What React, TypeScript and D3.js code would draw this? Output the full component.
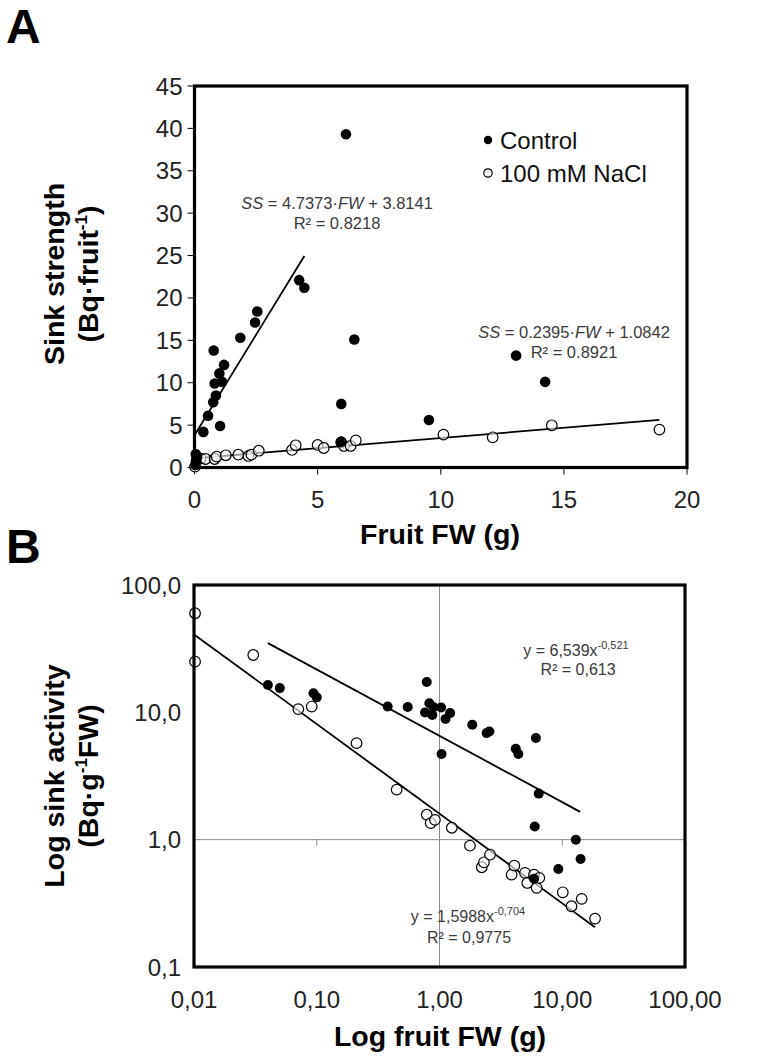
import React from "react";
import * as d3 from "d3";

// Panel A: sink strength vs fruit FW
const controlAx = [0.03, 0.06, 0.1, 0.05, 0.36, 0.55, 0.76, 0.87, 0.82, 1.12, 1.04, 1.01, 1.2, 0.78, 1.86, 2.46, 2.55, 4.25, 4.46, 6.15, 6.49, 5.96, 5.95, 9.52, 13.06, 14.24];
const controlAy = [0.3, 0.8, 1.2, 1.6, 4.2, 6.1, 7.7, 8.5, 9.9, 10.1, 4.9, 11.1, 12.1, 13.8, 15.3, 17.1, 18.4, 22.1, 21.2, 39.3, 15.1, 7.5, 3.05, 5.6, 13.2, 10.1];
const saltAx = [0.02, 0.11, 0.25, 0.45, 0.82, 0.9, 1.27, 1.78, 2.19, 2.31, 2.61, 3.96, 4.11, 5.0, 5.25, 5.96, 6.07, 6.34, 6.55, 10.11, 12.11, 14.51, 18.88];
const saltAy = [0.1, 1.08, 1.05, 1.0, 1.0, 1.28, 1.44, 1.51, 1.36, 1.51, 1.98, 2.07, 2.62, 2.66, 2.3, 2.97, 2.54, 2.54, 3.2, 3.88, 3.56, 4.98, 4.47];

// Panel B: log sink activity vs log fruit FW
const controlBx = [0.04, 0.05, 0.094, 0.1, 0.378, 0.551, 0.787, 0.826, 0.762, 0.873, 0.89, 1.03, 1.04, 1.12, 1.22, 1.85, 2.42, 2.55, 4.18, 4.39, 6.1, 6.43, 5.97, 12.9, 14.1, 9.29, 5.89];
const controlBy = [16.4, 15.5, 14.1, 13.1, 11.1, 11.0, 17.3, 11.8, 9.96, 9.55, 11.0, 10.9, 4.7, 8.85, 9.86, 8.0, 6.87, 7.07, 5.18, 4.7, 6.28, 2.3, 1.27, 1.0, 0.706, 0.589, 0.494];
const saltBx = [0.0102, 0.0102, 0.0304, 0.0708, 0.091, 0.211, 0.448, 0.787, 0.848, 0.918, 1.26, 1.77, 2.21, 2.3, 2.58, 3.87, 4.07, 4.97, 5.19, 5.89, 6.19, 6.5, 10.1, 11.9, 14.4, 18.5];
const saltBy = [60.0, 25.0, 28.2, 10.6, 11.1, 5.73, 2.47, 1.57, 1.35, 1.43, 1.24, 0.897, 0.607, 0.664, 0.762, 0.531, 0.625, 0.548, 0.457, 0.531, 0.418, 0.501, 0.386, 0.3, 0.343, 0.24];

// trend lines: [slope/coef, intercept/exponent, xStart, xEnd]
const linControl = [4.7373, 3.8141, 0, 4.46];
const linSalt = [0.2395, 1.0842, 0, 18.88];
const powControl = [6.539, -0.521, 0.04, 14.0];
const powSalt = [1.5988, -0.704, 0.01, 18.5];

const ticksAy = [0, 5, 10, 15, 20, 25, 30, 35, 40, 45];
const ticksAx = [0, 5, 10, 15, 20];
const ticksBy = [0.1, 1, 10, 100];
const ticksBx = [0.01, 0.1, 1, 10, 100];
const labelsBy = ["0,1", "1,0", "10,0", "100,0"];
const labelsBx = ["0,01", "0,10", "1,00", "10,00", "100,00"];

const FONT = "'Liberation Sans', Arial, sans-serif";

export default function App() {
  const xA = d3.scaleLinear().domain([0, 20]).range([194.5, 687]);
  const yA = d3.scaleLinear().domain([0, 45]).range([467.5, 86]);
  const xB = d3.scaleLog().domain([0.01, 100]).range([194, 685]);
  const yB = d3.scaleLog().domain([0.1, 100]).range([967, 585]);

  const line = d3.line<number[]>().x((d) => d[0]).y((d) => d[1]);
  const linPath = (p: number[]) =>
    line([p[2], p[3]].map((x) => [xA(x), yA(p[0] * x + p[1])]));
  const powPath = (p: number[]) =>
    line([p[2], p[3]].map((x) => [xB(x), yB(p[0] * Math.pow(x, p[1]))]));

  const ann = "#3a3a3a";

  return (
    <svg width={765} height={1062} style={{ position: "absolute", left: 0, top: 0, background: "#fff" }} fontFamily={FONT}>
      {/* ---------- Panel A ---------- */}
      <text x={6} y={43} fontSize={48} fontWeight="bold">A</text>

      {ticksAy.map((t) => (
        <g key={"ay" + t}>
          <line x1={xA(0) - 7} x2={xA(0)} y1={yA(t)} y2={yA(t)} stroke="#000" strokeWidth={1} />
          <text x={xA(0) - 12} y={yA(t)} textAnchor="end" dominantBaseline="central" fontSize={24} fill="#222">{t}</text>
        </g>
      ))}
      {ticksAx.map((t) => (
        <g key={"ax" + t}>
          <line x1={xA(t)} x2={xA(t)} y1={yA(0)} y2={yA(0) + 7} stroke="#000" strokeWidth={1} />
          <text x={xA(t)} y={508} textAnchor="middle" fontSize={24} fill="#222">{t}</text>
        </g>
      ))}

      <path d={linPath(linControl) || ""} stroke="#000" strokeWidth={1.8} fill="none" />
      <path d={linPath(linSalt) || ""} stroke="#000" strokeWidth={1.8} fill="none" />

      {saltAx.map((x, i) => (
        <circle key={"sa" + i} cx={xA(x)} cy={yA(saltAy[i])} r={5.3} fill="#fff" fillOpacity={0.6} stroke="#000" strokeWidth={1.2} />
      ))}
      {controlAx.map((x, i) => (
        <circle key={"ca" + i} cx={xA(x)} cy={yA(controlAy[i])} r={5.3} fill="#000" />
      ))}

      <rect x={xA(0)} y={yA(45)} width={xA(20) - xA(0)} height={yA(0) - yA(45)} fill="none" stroke="#000" strokeWidth={3.2} />

      <text x={337} y={209} textAnchor="middle" fontSize={16.5} fill={ann}>
        <tspan fontStyle="italic">SS</tspan> = 4.7373·<tspan fontStyle="italic">FW</tspan> + 3.8141
      </text>
      <text x={337} y={229} textAnchor="middle" fontSize={16.5} fill={ann}>R² = 0.8218</text>
      <text x={574} y={338} textAnchor="middle" fontSize={16.5} fill={ann}>
        <tspan fontStyle="italic">SS</tspan> = 0.2395·<tspan fontStyle="italic">FW</tspan> + 1.0842
      </text>
      <text x={574} y={358} textAnchor="middle" fontSize={16.5} fill={ann}>R² = 0.8921</text>

      <circle cx={488} cy={140} r={4.2} fill="#000" />
      <text x={500} y={140} dominantBaseline="central" fontSize={24} fill="#111">Control</text>
      <circle cx={488} cy={173} r={4.2} fill="#fff" stroke="#000" strokeWidth={1.2} />
      <text x={500} y={173} dominantBaseline="central" fontSize={24} fill="#111">100 mM NaCl</text>

      <text x={440} y={544} textAnchor="middle" fontSize={28.5} fontWeight="bold">Fruit FW (g)</text>
      <g transform="translate(0,274) rotate(-90)">
        <text x={0} y={64} textAnchor="middle" fontSize={28.5} fontWeight="bold">Sink strength</text>
        <text x={0} y={98} textAnchor="middle" fontSize={28.5} fontWeight="bold">
          (Bq·fruit<tspan fontSize={17} dy={-11}>-1</tspan><tspan dy={11}>)</tspan>
        </text>
      </g>

      {/* ---------- Panel B ---------- */}
      <text x={6} y={563} fontSize={48} fontWeight="bold">B</text>

      <line x1={xB(1)} x2={xB(1)} y1={yB(100)} y2={yB(0.1)} stroke="#8a8a8a" strokeWidth={1} />
      <line x1={xB(0.01)} x2={xB(100)} y1={yB(1)} y2={yB(1)} stroke="#8a8a8a" strokeWidth={1} />
      {ticksBx.map((t) => (
        <line key={"bt" + t} x1={xB(t)} x2={xB(t)} y1={yB(1)} y2={yB(1) + 6} stroke="#8a8a8a" strokeWidth={1} />
      ))}

      {ticksBy.map((t, i) => (
        <text key={"by" + t} x={181} y={yB(t)} textAnchor="end" dominantBaseline="central" fontSize={24} fill="#222">{labelsBy[i]}</text>
      ))}
      {ticksBx.map((t, i) => (
        <text key={"bx" + t} x={xB(t)} y={1008} textAnchor="middle" fontSize={24} fill="#222">{labelsBx[i]}</text>
      ))}

      <path d={powPath(powControl) || ""} stroke="#000" strokeWidth={1.8} fill="none" />
      <path d={powPath(powSalt) || ""} stroke="#000" strokeWidth={1.8} fill="none" />

      {saltBx.map((x, i) => (
        <circle key={"sb" + i} cx={xB(x)} cy={yB(saltBy[i])} r={5.3} fill="#fff" fillOpacity={0.6} stroke="#000" strokeWidth={1.2} />
      ))}
      {controlBx.map((x, i) => (
        <circle key={"cb" + i} cx={xB(x)} cy={yB(controlBy[i])} r={5} fill="#000" />
      ))}

      <rect x={xB(0.01)} y={yB(100)} width={xB(100) - xB(0.01)} height={yB(0.1) - yB(100)} fill="none" stroke="#000" strokeWidth={3.2} />

      <text x={576} y={656} textAnchor="middle" fontSize={16} fill={ann}>
        y = 6,539x<tspan fontSize={11} dy={-7}>-0,521</tspan>
      </text>
      <text x={578} y={675} textAnchor="middle" fontSize={16} fill={ann}>R² = 0,613</text>
      <text x={468} y={922} textAnchor="middle" fontSize={16} fill={ann}>
        y = 1,5988x<tspan fontSize={11} dy={-7}>-0,704</tspan>
      </text>
      <text x={469} y={943} textAnchor="middle" fontSize={16} fill={ann}>R² = 0,9775</text>

      <text x={440} y={1046} textAnchor="middle" fontSize={28.5} fontWeight="bold">Log fruit FW (g)</text>
      <g transform="translate(0,776) rotate(-90)">
        <text x={0} y={64} textAnchor="middle" fontSize={28.5} fontWeight="bold">Log sink activity</text>
        <text x={0} y={98} textAnchor="middle" fontSize={28.5} fontWeight="bold">
          (Bq·g<tspan fontSize={17} dy={-11}>-1</tspan><tspan dy={11}>FW)</tspan>
        </text>
      </g>
    </svg>
  );
}
